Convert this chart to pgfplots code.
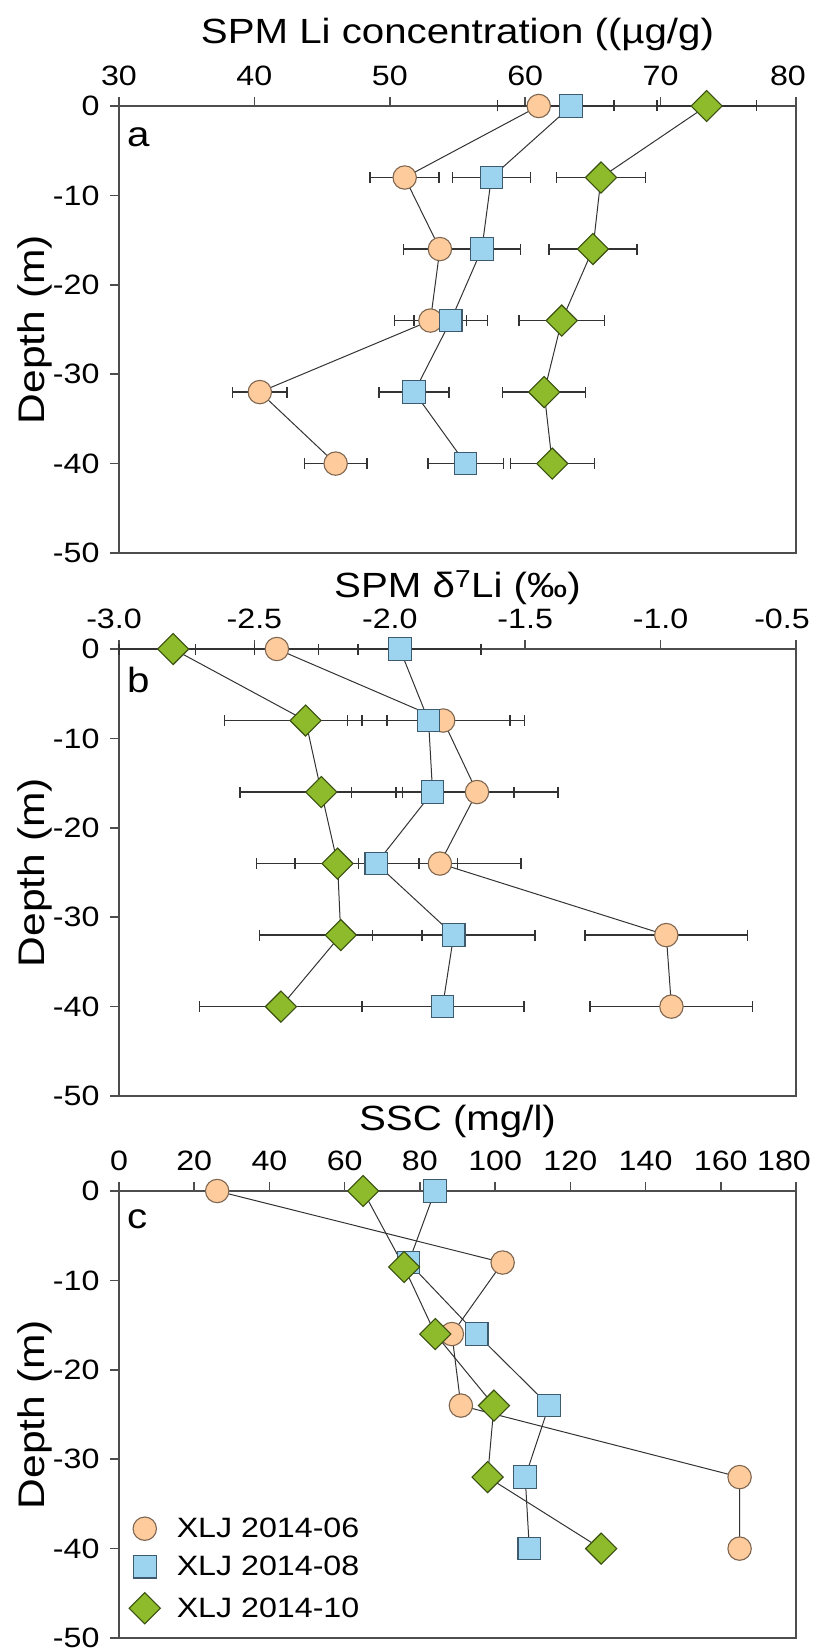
\documentclass[border=0pt]{standalone}
\usepackage{fontspec}
\setmainfont[FakeStretch=1.15]{Liberation Sans}
\usepackage{pgfplots}
\usepackage{pgfplotstable}
\pgfplotsset{compat=1.18}
\definecolor{oF}{HTML}{FDCB9C}
\definecolor{oD}{HTML}{7F6650}
\definecolor{bF}{HTML}{9CD4EF}
\definecolor{bD}{HTML}{3D5A6E}
\definecolor{gF}{HTML}{8DBB2B}
\definecolor{gD}{HTML}{3A4F12}
\definecolor{ax}{HTML}{4D4D4D}
\definecolor{ln}{HTML}{333333}
\newcommand{\tickfont}{\fontsize{28}{30}\selectfont}
\newcommand{\labfont}{\fontsize{35}{40}\selectfont}
\newcommand{\ylabfont}{\fontsize{37}{40}\selectfont}

% Panel a: SPM Li concentration
\pgfplotstableread{
y x ex
0 61.0 3.05
-8 51.1 2.55
-16 53.7 2.69
-24 53.0 2.65
-32 40.4 2.02
-40 46.0 2.30
}\aO
\pgfplotstableread{
y x ex
0 63.4 3.17
-8 57.5 2.88
-16 56.8 2.84
-24 54.5 2.73
-32 51.8 2.59
-40 55.6 2.78
}\aB
\pgfplotstableread{
y x ex
0 73.4 3.67
-8 65.6 3.28
-16 65.0 3.25
-24 62.7 3.14
-32 61.4 3.07
-40 62.0 3.10
}\aG
% Panel b: d7Li
\pgfplotstableread{
y x ep em
0 -2.417 0.3 0.3
-8 -1.803 0.3 0.3
-16 -1.678 0.3 0.3
-24 -1.815 0.3 0.3
-32 -0.979 0.3 0.3
-40 -0.960 0.3 0.3
}\bO
\pgfplotstableread{
y x ep em
0 -1.963 0.3 0.3
-8 -1.857 0.3 0.3
-16 -1.842 0.3 0.3
-24 -2.050 0.3 0.3
-32 -1.764 0.3 0.3
-40 -1.805 0.3 0.3
}\bB
\pgfplotstableread{
y x ep em
0 -2.800 0.3 0.2
-8 -2.311 0.3 0.3
-16 -2.253 0.3 0.3
-24 -2.193 0.3 0.3
-32 -2.181 0.3 0.3
-40 -2.402 0.3 0.3
}\bG
% Panel c: SSC
\pgfplotstableread{
y x
0 26.1
-8 102.0
-16 88.5
-24 90.9
-32 165.0
-40 165.0
}\cO
\pgfplotstableread{
y x
0 84.0
-8 77.0
-16 95.1
-24 114.3
-32 108.0
-40 109.1
}\cB
\pgfplotstableread{
y x
0 64.9
-8.5 75.8
-16 84.1
-24 99.7
-32 98.0
-40 128.2
}\cG

\pgfplotsset{
  panel/.style={
    scale only axis, width=677pt, height=447pt,
    ymin=-50, ymax=0, ytick={-50,-40,-30,-20,-10,0},
    yticklabels={-50,-40,-30,-20,-10,0},
    xtick pos=upper, xticklabel pos=upper, ytick pos=lower,
    tick align=outside, major tick length=9pt,
    axis line style={ax, line width=1.5pt},
    every tick/.style={ax, line width=1.5pt},
    tick label style={font=\tickfont},
    xticklabel shift=8pt, yticklabel shift=7pt,
    clip=false,
    ylabel={Depth (m)},
    every axis y label/.style={at={(rel axis cs:-0.124,0.5)}, rotate=90, anchor=center, font=\ylabfont},
  },
  lineS/.style={ln, line width=1pt, forget plot, mark=none},
  mO/.style={only marks, mark=*, mark size=11.7pt, mark options={fill=oF, draw=oD, line width=1.1pt}},
  mB/.style={only marks, mark=square*, mark size=11.3pt, mark options={fill=bF, draw=bD, line width=1.1pt}},
  mG/.style={only marks, mark=square*, mark size=11pt, mark options={rotate=45, fill=gF, draw=gD, line width=1.1pt}},
  eb/.style={error bars/.cd, x dir=both, x explicit, error bar style={color=ln, line width=1.5pt}, error mark options={color=ln, line width=1.5pt, mark size=5.5pt, rotate=90}},
}

\begin{document}
\begin{tikzpicture}
\path[use as bounding box] (0pt,0pt) rectangle (815pt,-1648pt);

% ---------- Panel a ----------
\begin{axis}[panel, at={(119pt,-106pt)}, anchor=north west,
  xmin=30, xmax=80, xtick={30,40,50,60,70,80}, xticklabels={30,40,50,60,70,{\hspace*{-16pt}80}},
  title={SPM Li concentration ((µg/g)},
  every axis title/.style={at={(rel axis cs:0.5,1)}, anchor=base, yshift=62pt, font=\labfont}]
\addplot[lineS] table[x=x,y=y]{\aO};
\addplot[lineS] table[x=x,y=y]{\aB};
\addplot[lineS] table[x=x,y=y]{\aG};
\addplot[mO, eb] table[x=x,y=y,x error=ex]{\aO};
\addplot[mB, eb] table[x=x,y=y,x error=ex]{\aB};
\addplot[mG, eb] table[x=x,y=y,x error=ex]{\aG};
\node[font=\labfont, anchor=base west, inner sep=0pt, xshift=8pt, yshift=-41pt] at (rel axis cs:0,1) {a};
\end{axis}

% ---------- Panel b ----------
\begin{axis}[panel, at={(119pt,-649pt)}, anchor=north west,
  xmin=-3, xmax=-0.5, xtick={-3,-2.5,-2,-1.5,-1,-0.5}, xticklabels={{\hspace*{-10pt}-3.0},-2.5,-2.0,-1.5,-1.0,{\hspace*{-28pt}-0.5}},
  title={SPM δ\textsuperscript{7}Li (‰)},
  every axis title/.style={at={(rel axis cs:0.5,1)}, anchor=base, yshift=52pt, font=\labfont}]
\addplot[lineS] table[x=x,y=y]{\bO};
\addplot[lineS] table[x=x,y=y]{\bB};
\addplot[lineS] table[x=x,y=y]{\bG};
\addplot[mO, eb] table[x=x,y=y,x error plus=ep,x error minus=em]{\bO};
\addplot[mB, eb] table[x=x,y=y,x error plus=ep,x error minus=em]{\bB};
\addplot[mG, eb] table[x=x,y=y,x error plus=ep,x error minus=em]{\bG};
\node[font=\labfont, anchor=base west, inner sep=0pt, xshift=8pt, yshift=-43pt] at (rel axis cs:0,1) {b};
\end{axis}

% ---------- Panel c ----------
\begin{axis}[panel, at={(119pt,-1191pt)}, anchor=north west,
  xmin=0, xmax=180, xtick={0,20,40,60,80,100,120,140,160,180}, xticklabels={0,20,40,60,80,100,120,140,160,{\hspace*{-24pt}180}},
  title={SSC (mg/l)},
  every axis title/.style={at={(rel axis cs:0.5,1)}, anchor=base, yshift=61pt, font=\labfont},
  legend style={draw=none, fill=none, at={(rel axis cs:0,0)}, anchor=south west, xshift=10pt, yshift=14pt,
    font=\tickfont, row sep=14pt, inner sep=0pt, nodes={inner sep=0pt}},
  legend cell align=left,
  legend image code/.code={\path[draw=none,fill=none] (0pt,-12pt) rectangle (46pt,12pt); \draw[mark repeat=2, mark phase=2, #1] plot coordinates {(0pt,0pt) (14pt,0pt) (28pt,0pt)};}]
\addplot[lineS] table[x=x,y=y]{\cO};
\addplot[lineS] table[x=x,y=y]{\cB};
\addplot[lineS] table[x=x,y=y]{\cG};
\addplot[mO] table[x=x,y=y]{\cO};
\addlegendentry{XLJ 2014-06}
\addplot[mB] table[x=x,y=y]{\cB};
\addlegendentry{XLJ 2014-08}
\addplot[mG] table[x=x,y=y]{\cG};
\addlegendentry{XLJ 2014-10}
\node[font=\labfont, anchor=base west, inner sep=0pt, xshift=8pt, yshift=-37pt] at (rel axis cs:0,1) {c};
\end{axis}
\end{tikzpicture}
\end{document}
